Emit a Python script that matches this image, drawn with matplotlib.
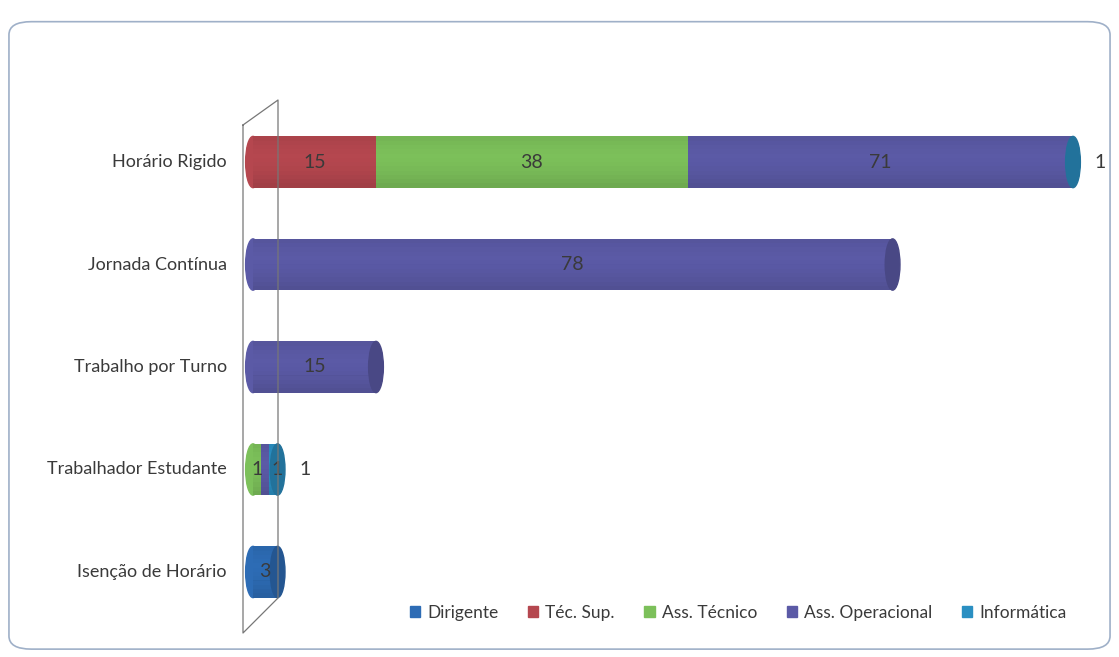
# horizontal stacked "cylinder" bars - horario de trabalho por grupo

import matplotlib.pyplot as plt
from matplotlib.patches import Ellipse, FancyBboxPatch
from matplotlib.lines import Line2D
import numpy as np

plt.rcParams['font.family'] = ['Lato', 'DejaVu Sans']

categories = ['Horário Rigido', 'Jornada Contínua', 'Trabalho por Turno',
              'Trabalhador Estudante', 'Isenção de Horário']
series = ['Dirigente', 'Téc. Sup.', 'Ass. Técnico', 'Ass. Operacional', 'Informática']
dirigente = [0, 0, 0, 0, 3]
tec_sup = [15, 0, 0, 0, 0]
ass_tecnico = [38, 0, 0, 1, 0]
ass_operacional = [71, 78, 15, 1, 0]
informatica = [1, 0, 0, 1, 0]
colors = ['#2d6cb5', '#b5474f', '#7cc05a', '#5b5aa6', '#2a8fc2']
xmax = 100

values = [dirigente, tec_sup, ass_tecnico, ass_operacional, informatica]
text_col = '#3a3a3a'

def darker(c, f=0.7):
    r, g, b = [int(c[i:i + 2], 16) / 255 for i in (1, 3, 5)]
    return (r * f, g * f, b * f)

fig = plt.figure(figsize=(11.19, 6.57), dpi=100)
fig.patch.set_facecolor('white')

# rounded frame round the chart
fig.patches.append(FancyBboxPatch((0.008, 0.012), 0.984, 0.955,
                                  boxstyle='round,pad=0,rounding_size=0.02',
                                  transform=fig.transFigure, fill=False,
                                  edgecolor='#9fb0c8', linewidth=1.2))

# 3d back wall outline
wall_x = np.array([243, 278, 278, 243, 243]) / 1119
wall_y = 1 - np.array([125, 100, 598, 633, 125]) / 657
fig.add_artist(Line2D(wall_x, wall_y, color='#777777', lw=0.9))

ax = fig.add_axes([253 / 1119, 1 - 634.5 / 657, 820 / 1119, 535 / 657])
ax.set_xlim(0, xmax)
ax.set_ylim(4.61, -0.61)
ax.axis('off')

ypos = np.arange(len(categories))
h = 0.5
cap_w = 1.8
nstrip = 12
strip_t = (np.arange(nstrip) + 0.5) / nstrip  # 0 top, 1 bottom
strip_a = 0.28 * np.abs(strip_t - 0.4) ** 1.6

left = np.zeros(len(categories))
first_col = [None] * len(categories)
last_col = [None] * len(categories)
last_lab = [-10.0] * len(categories)
for s, (name, vals, col) in enumerate(zip(series, values, colors)):
    vals = np.array(vals, dtype=float)
    ax.barh(ypos, vals, left=left, height=h, color=col, label=name, linewidth=0)
    # darker towards the edges so it reads as a cylinder
    for t, a in zip(strip_t, strip_a):
        ax.barh(ypos - h / 2 + t * h, vals, left=left, height=h / nstrip * 1.02,
                color='black', alpha=a, linewidth=0)
    for i, v in enumerate(vals):
        if v <= 0:
            continue
        if first_col[i] is None:
            first_col[i] = col
        last_col[i] = col
        start = left[i]
        end = min(start + v, xmax)
        if name == 'Informática':
            ax.text(end + 3.3, ypos[i], f'{int(v)}', ha='center', va='center',
                    fontsize=14, color=text_col, clip_on=False)
        elif start < xmax:
            lx = max((start + end) / 2, last_lab[i] + 2.4)
            last_lab[i] = lx
            ax.text(lx, ypos[i], f'{int(v)}', ha='center',
                    va='center', fontsize=14, color=text_col, zorder=5)
    left = left + vals

# rounded ends
for i in range(len(categories)):
    ax.add_patch(Ellipse((0, ypos[i]), cap_w, h, color=first_col[i],
                         clip_on=False, zorder=0.5))
    end = min(left[i], xmax)
    ax.add_patch(Ellipse((end, ypos[i]), cap_w, h, color=darker(last_col[i], 0.8),
                         clip_on=False, zorder=3))

for i, cat in enumerate(categories):
    ax.text(-3.2, ypos[i], cat, ha='right', va='center', fontsize=13,
            color=text_col, clip_on=False)

handles = [plt.Rectangle((0, 0), 1, 1, color=c) for c in colors]
fig.legend(handles, series, loc='center', bbox_to_anchor=(738 / 1119, 1 - 613 / 657),
           ncol=5, frameon=False, fontsize=12.5, handlelength=0.6, handleheight=0.6,
           handletextpad=0.4, columnspacing=1.7, labelcolor=text_col)

fig.savefig('out.png', dpi=100)
